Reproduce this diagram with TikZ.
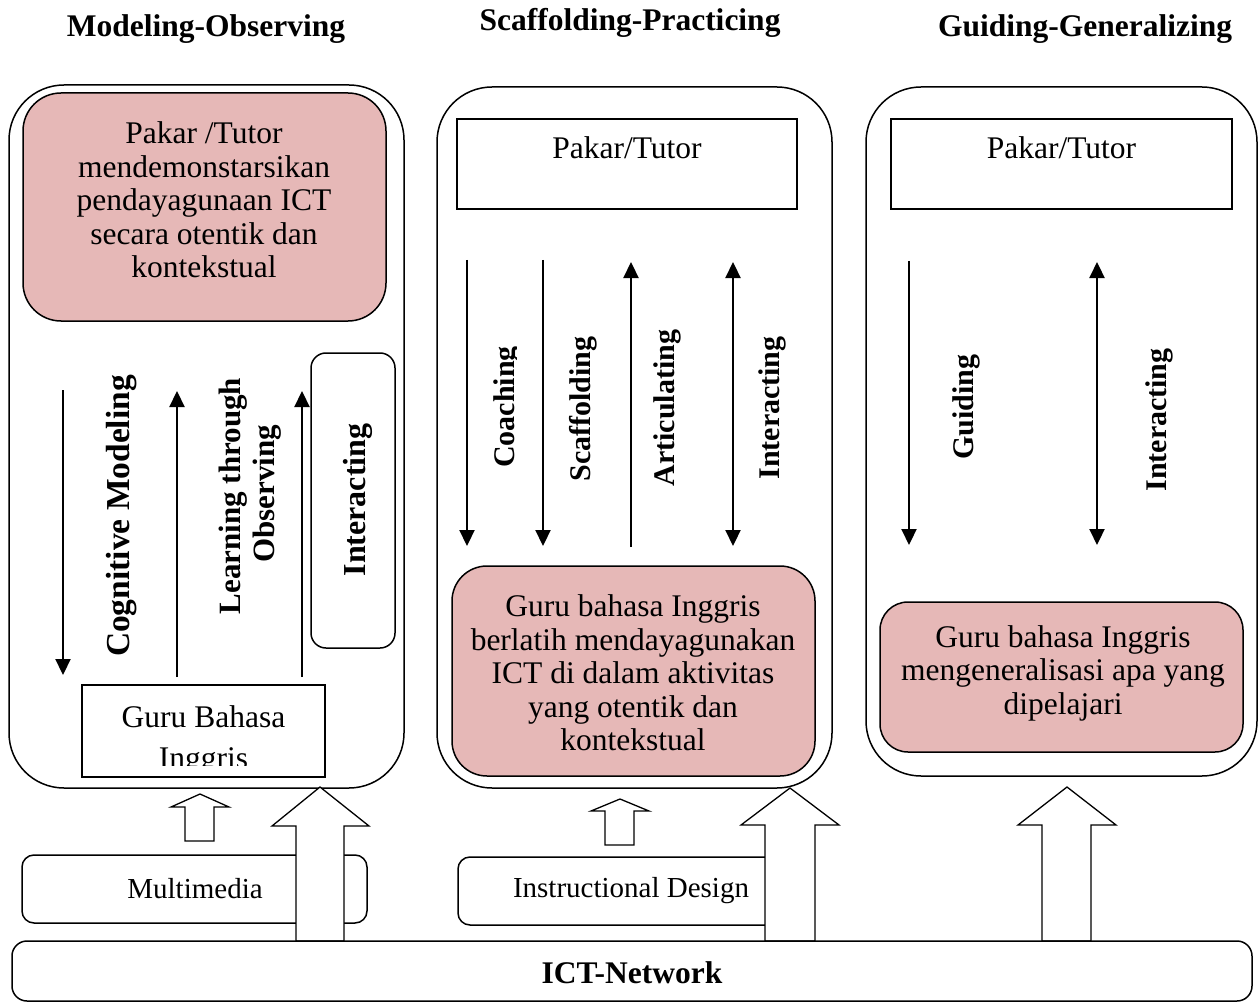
\documentclass[tikz,border=0pt]{standalone}
\usepackage{fontspec}
\setmainfont{Liberation Serif}
\usetikzlibrary{arrows.meta}
\definecolor{pinkfill}{RGB}{230,184,183}
\begin{document}
\begin{tikzpicture}[x=1pt,y=-1pt,
  panel/.style={draw, line width=1.5pt, rounded corners=55pt, inner sep=0pt},
  pinkbox/.style={draw, line width=1.5pt, fill=pinkfill, inner sep=0pt},
  plainbox/.style={draw, line width=1.5pt, fill=white, inner sep=0pt},
  txt/.style={font=\fontsize{31.5}{33.5}\selectfont, align=center, inner sep=0pt},
  smalltxt/.style={font=\fontsize{29}{32}\selectfont, inner sep=0pt},
  lbl/.style={font=\fontsize{30}{33}\selectfont\bfseries, rotate=90, inner sep=0pt, anchor=base},
  biglbl/.style={font=\fontsize{32}{34}\selectfont\bfseries, rotate=90, inner sep=0pt, anchor=base},
  ttl/.style={font=\fontsize{31.5}{34}\selectfont\bfseries, inner sep=0pt, anchor=base},
  conn/.style={line width=2.2pt, -{Triangle[width=15pt,length=16pt]}},
  conntwo/.style={line width=2.2pt, {Triangle[width=15pt,length=16pt]}-{Triangle[width=15pt,length=16pt]}},
  block/.style={draw, line width=1.3pt, fill=white, line join=miter},
]
\useasboundingbox (0,0) rectangle (1260,1008);
\fill[white] (0,0) rectangle (1260,1008);

% titles
\node[ttl] (t1) at (206,37) {Modeling-Observing};
\node[ttl] (t2) at (630,31) {Scaffolding-Practicing};
\node[ttl] (t3) at (1085,37) {Guiding-Generalizing};

% panels
\node[panel, minimum width=395pt, minimum height=703pt] (p1) at (206.5,436.5) {};
\node[panel, minimum width=395pt, minimum height=701pt] (p2) at (634.5,437.5) {};
\node[panel, minimum width=391pt, minimum height=689pt] (p3) at (1061.5,431.5) {};

% ---------- left panel ----------
\node[pinkbox, rounded corners=38pt, minimum width=363pt, minimum height=228pt] (lpk) at (204.5,207) {};
\node[txt] (lpktxt) at (204,200) {Pakar /Tutor\\mendemonstarsikan\\pendayagunaan ICT\\secara otentik dan\\kontekstual};
\node[plainbox, rounded corners=15pt, minimum width=84pt, minimum height=295pt] (lint) at (353,500.5) {};
\node[plainbox, minimum width=243pt, minimum height=92pt] (lgb) at (203.5,731) {};
\node[txt, anchor=base] (lgbtxt) at (203.5,727) {Guru Bahasa};
\begin{scope}
\clip (84,687) rectangle (323,765);
\node[txt, anchor=base] (lgbtxt2) at (203.5,768) {Inggris};
\end{scope}

\coordinate (la1s) at (63,390); \coordinate (la1e) at (63,675);
\coordinate (la2s) at (177,677); \coordinate (la2e) at (177,391);
\coordinate (la3s) at (302,677); \coordinate (la3e) at (302,391);
\draw[conn] (la1s) -- (la1e);
\draw[conn] (la2s) -- (la2e);
\draw[conn] (la3s) -- (la3e);

\node[biglbl, font=\fontsize{33.5}{35}\selectfont\bfseries] (lcm) at (129.5,516) {Cognitive Modeling};
\node[lbl, font=\fontsize{31}{33}\selectfont\bfseries] (llt) at (240,496) {Learning through};
\node[lbl, font=\fontsize{31}{33}\selectfont\bfseries] (lob) at (274,494) {Observing};
\node[biglbl] (lintl) at (365,500) {Interacting};

% ---------- middle panel ----------
\node[plainbox, minimum width=340pt, minimum height=90pt] (mpt) at (627,164) {};
\node[txt, anchor=base] (mpttxt) at (627,159) {Pakar/Tutor};
\node[pinkbox, rounded corners=35pt, minimum width=363pt, minimum height=210pt] (mpk) at (633.5,671) {};
\node[txt] (mpktxt) at (633,673) {Guru bahasa Inggris\\berlatih mendayagunakan\\ICT di dalam aktivitas\\yang otentik dan\\kontekstual};

\coordinate (ma1s) at (467,260); \coordinate (ma1e) at (467,546);
\coordinate (ma2s) at (543,260); \coordinate (ma2e) at (543,546);
\coordinate (ma3s) at (631,547); \coordinate (ma3e) at (631,262);
\coordinate (ma4s) at (733,262); \coordinate (ma4e) at (733,546);
\draw[conn] (ma1s) -- (ma1e);
\draw[conn] (ma2s) -- (ma2e);
\draw[conn] (ma3s) -- (ma3e);
\draw[conntwo] (ma4s) -- (ma4e);

\begin{scope}
\clip (480,330) rectangle (516.5,490);
\node[lbl] (mco) at (514,407) {Coaching};
\end{scope}
\node[lbl] (msc) at (590.5,409) {Scaffolding};
\node[lbl] (mar) at (674,408) {Articulating};
\node[lbl] (min) at (779,408) {Interacting};

% ---------- right panel ----------
\node[plainbox, minimum width=341pt, minimum height=90pt] (rpt) at (1061.5,164) {};
\node[txt, anchor=base] (rpttxt) at (1061.5,159) {Pakar/Tutor};
\node[pinkbox, rounded corners=28pt, minimum width=363pt, minimum height=150pt] (rpk) at (1061.5,677) {};
\node[txt] (rpktxt) at (1063,673) {Guru bahasa Inggris\\mengeneralisasi apa yang\\dipelajari};

\coordinate (ra1s) at (909,261); \coordinate (ra1e) at (909,545);
\coordinate (ra2s) at (1097,262); \coordinate (ra2e) at (1097,545);
\draw[conn] (ra1s) -- (ra1e);
\draw[conntwo] (ra2s) -- (ra2e);

\node[lbl] (rgu) at (973,407) {Guiding};
\node[lbl] (rin) at (1166,420) {Interacting};

% ---------- bottom ----------
\node[plainbox, rounded corners=12pt, minimum width=345pt, minimum height=68pt] (mm) at (194.5,889) {};
\node[smalltxt] (mmtxt) at (195,889) {Multimedia};
\node[plainbox, rounded corners=12pt, minimum width=342pt, minimum height=68pt] (idz) at (629,891) {};
\node[smalltxt] (idtxt) at (631,891) {Instructional Design};

% small hollow arrows
\draw[block] (200,794) -- (229,807) -- (214,807) -- (214,841) -- (185,841) -- (185,807) -- (171,807) -- cycle;
\draw[block] (620,799) -- (649,811) -- (634,811) -- (634,845) -- (605,845) -- (605,811) -- (591,811) -- cycle;
% big hollow arrows
\draw[block] (320,787) -- (369,826) -- (344,826) -- (344,941) -- (296,941) -- (296,826) -- (272,826) -- cycle;
\draw[block] (790,788) -- (839,825) -- (815,825) -- (815,941) -- (765,941) -- (765,825) -- (741,825) -- cycle;
\draw[block] (1067,787) -- (1116,825) -- (1091,825) -- (1091,941) -- (1042,941) -- (1042,825) -- (1018,825) -- cycle;

\node[plainbox, rounded corners=15pt, minimum width=1240pt, minimum height=60pt] (ict) at (632,971) {};
\node[font=\fontsize{31.5}{34}\selectfont\bfseries, inner sep=0pt] (icttxt) at (632,973) {ICT-Network};
\end{tikzpicture}
\end{document}
